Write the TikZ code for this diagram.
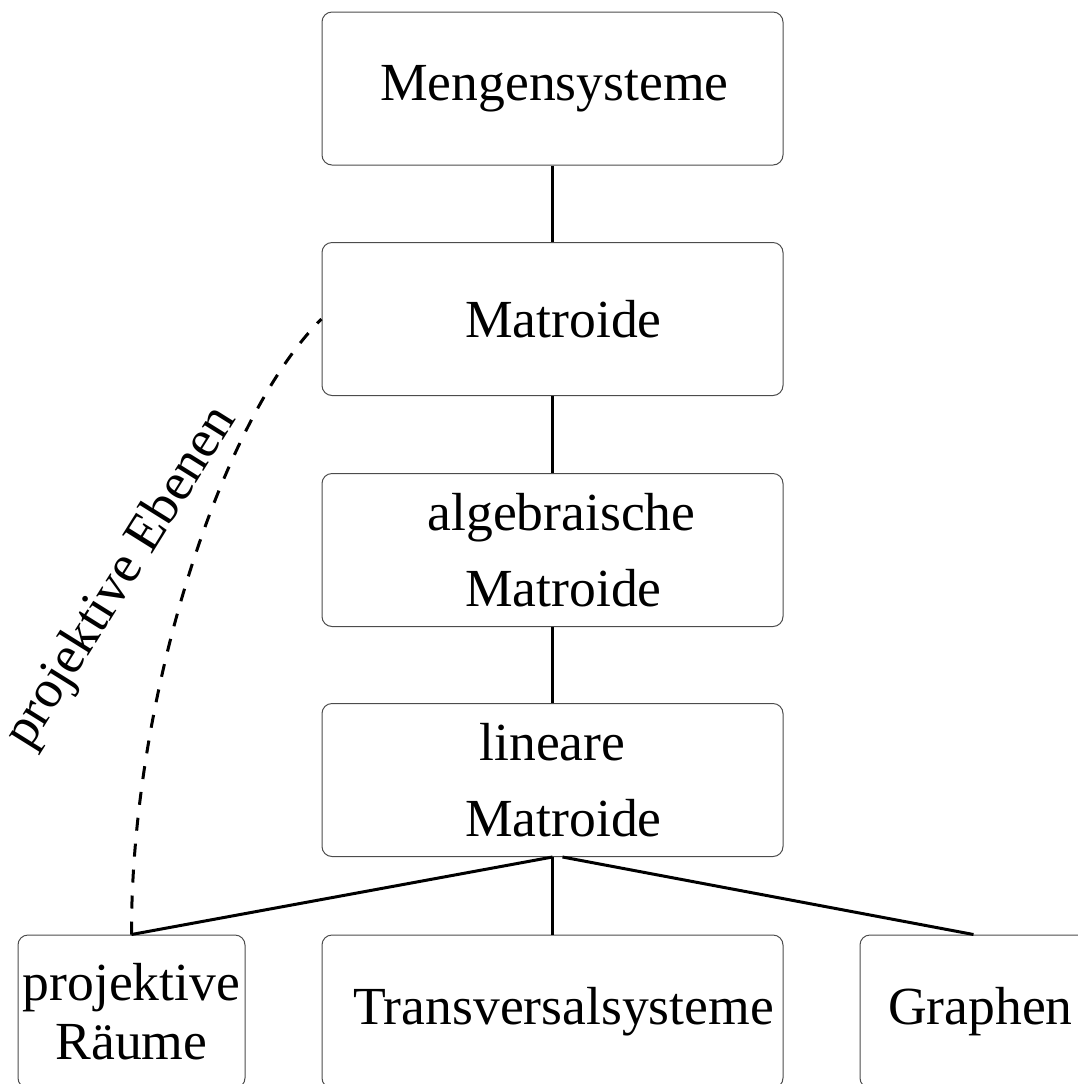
\documentclass[tikz,border=0pt]{standalone}
\usepackage{fontspec}
\setmainfont{Liberation Serif}
\usetikzlibrary{positioning, calc}

\begin{document}
\begin{tikzpicture}[
  x=0.5pt, y=-0.5pt,
  box/.style={rounded corners=5pt, draw=black!70, line width=0.5pt,
              minimum width=230.5pt, minimum height=76.5pt, inner sep=0pt,
              align=center, font=\fontsize{26.8}{38}\selectfont},
  smallbox/.style={box, minimum width=113.5pt},
  link/.style={line width=1.5pt},
  dashlink/.style={line width=1.5pt, dash pattern=on 6.5pt off 6.5pt},
  lbl/.style={font=\fontsize{26.8}{32}\selectfont, rotate=58},
]
  \useasboundingbox (0,0) rectangle (1078,1084);
  \node[box] (menge) at (552.5,88.5) {\hspace*{2pt}Mengensysteme};
  \node[box] (matro) at (552.5,319) {\hspace*{11pt}Matroide};
  \node[box] (alg)   at (552.5,550) {\hspace*{9pt}algebraische\\\hspace*{11pt}Matroide};
  \node[box] (lin)   at (552.5,780) {lineare\\\hspace*{11pt}Matroide};
  \node[smallbox] (proj)  at (131.5,1011.5) {projektive\\[-8.5pt]Räume};
  \node[box] (trans) at (552.5,1011.5) {\hspace*{11pt}Transversalsysteme};
  \node[smallbox] (graph) at (973.5,1011.5) {\hspace*{7pt}Graphen};

  \draw[link] (menge) -- (matro);
  \draw[link] (matro) -- (alg);
  \draw[link] (alg) -- (lin);
  \draw[link] (lin.south) -- (proj.north);
  \draw[link] (lin.south) -- (trans.north);
  \draw[link] ([xshift=5pt]lin.south) -- (graph.north);
  \draw[dashlink] (proj.north) .. controls (131,700) and (220,420) .. (matro.west);
  \node[lbl] (ebenen) at (122,578) {projektive Ebenen};
\end{tikzpicture}
\end{document}
